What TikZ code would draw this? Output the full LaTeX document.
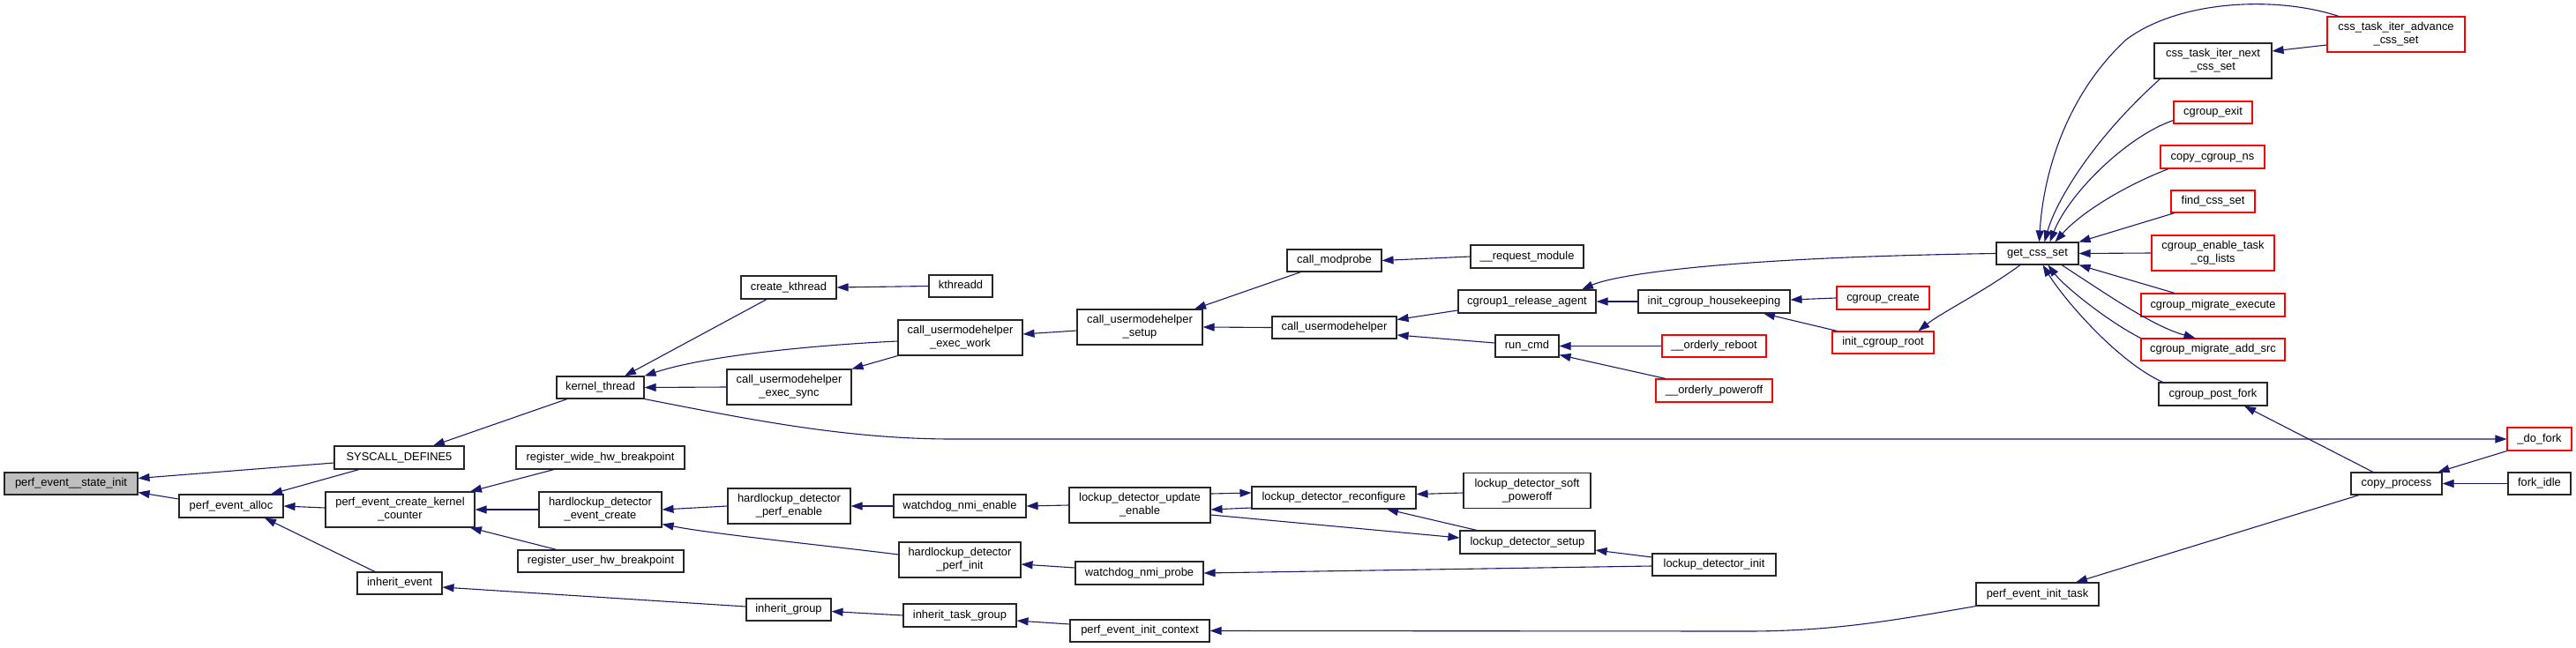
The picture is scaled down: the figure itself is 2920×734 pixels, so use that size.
\documentclass[tikz,border=0pt]{standalone}
\usepackage{fontspec}
\setmainfont{Liberation Sans}
\usetikzlibrary{arrows.meta,calc}
\definecolor{edgecol}{HTML}{191970}
\definecolor{boxgray}{HTML}{BFBFBF}
\newcommand{\mystrut}{\rule[-2.7pt]{0pt}{12pt}}
\tikzset{
  fn/.style={draw=black!85, line width=1.1pt, rectangle, inner sep=0pt, align=center,
    font=\fontsize{12.9pt}{14.7pt}\selectfont, fill=white},
  redfn/.style={fn, draw=red},
  edge/.style={draw=edgecol, line width=1.1pt, -{Triangle[length=13pt,width=9pt]}},
}
\begin{document}
\begin{tikzpicture}[x=1pt,y=-1pt]
\useasboundingbox (0,0) rectangle (2920,734);
% ---- nodes ----
\node[fn, fill=boxgray, minimum width=151pt, minimum height=25pt] (psi) at (80.5,548.5) {\mystrut perf\_event\_\_state\_init};
\node[fn, minimum width=118pt, minimum height=26pt] (pea) at (262,574) {\mystrut perf\_event\_alloc};
\node[fn, minimum width=147pt, minimum height=26pt] (sys) at (452.5,519) {\mystrut SYSCALL\_DEFINE5};
\node[fn, minimum width=169pt, minimum height=40pt] (pekc) at (453.5,578) {\mystrut perf\_event\_create\_kernel\\\mystrut \_counter};
\node[fn, minimum width=96pt, minimum height=25pt] (inhev) at (453,661.5) {\mystrut inherit\_event};
\node[fn, minimum width=99pt, minimum height=25pt] (kt) at (680.5,439.5) {\mystrut kernel\_thread};
\node[fn, minimum width=191pt, minimum height=26pt] (rwhb) at (680.5,519) {\mystrut register\_wide\_hw\_breakpoint};
\node[fn, minimum width=139pt, minimum height=40pt] (hdec) at (680.5,578) {\mystrut hardlockup\_detector\\\mystrut \_event\_create};
\node[fn, minimum width=188pt, minimum height=25pt] (ruhb) at (681,636.5) {\mystrut register\_user\_hw\_breakpoint};
\node[fn, minimum width=108pt, minimum height=26pt] (ck) at (894,326) {\mystrut create\_kthread};
\node[fn, minimum width=72pt, minimum height=25pt] (kthreadd) at (1089,324.5) {\mystrut kthreadd};
\node[fn, minimum width=141pt, minimum height=40pt] (cuew) at (1088.5,383) {\mystrut call\_usermodehelper\\\mystrut \_exec\_work};
\node[fn, minimum width=141pt, minimum height=40pt] (cues) at (894.5,439) {\mystrut call\_usermodehelper\\\mystrut \_exec\_sync};
\node[fn, minimum width=139pt, minimum height=40pt] (hdpe) at (894.5,574) {\mystrut hardlockup\_detector\\\mystrut \_perf\_enable};
\node[fn, minimum width=96pt, minimum height=25pt] (inhg) at (894,691.5) {\mystrut inherit\_group};
\node[fn, minimum width=150pt, minimum height=26pt] (wne) at (1088,574) {\mystrut watchdog\_nmi\_enable};
\node[fn, minimum width=138pt, minimum height=40pt] (hdpi) at (1088,635) {\mystrut hardlockup\_detector\\\mystrut \_perf\_init};
\node[fn, minimum width=128pt, minimum height=26pt] (itg) at (1088,698) {\mystrut inherit\_task\_group};
\node[fn, minimum width=142pt, minimum height=40pt] (cus) at (1292,371) {\mystrut call\_usermodehelper\\\mystrut \_setup};
\node[fn, minimum width=160pt, minimum height=40pt] (ldue) at (1292,573) {\mystrut lockup\_detector\_update\\\mystrut \_enable};
\node[fn, minimum width=145pt, minimum height=26pt] (wnp) at (1291.5,650) {\mystrut watchdog\_nmi\_probe};
\node[fn, minimum width=158pt, minimum height=25pt] (peic) at (1292,715.5) {\mystrut perf\_event\_init\_context};
\node[fn, minimum width=107pt, minimum height=25pt] (cm) at (1512.5,295.5) {\mystrut call\_modprobe};
\node[fn, minimum width=141pt, minimum height=25pt] (cu) at (1512.5,371.5) {\mystrut call\_usermodehelper};
\node[fn, minimum width=186pt, minimum height=25pt] (ldr) at (1512,564.5) {\mystrut lockup\_detector\_reconfigure};
\node[fn, minimum width=128pt, minimum height=26pt] (rm) at (1731,291) {\mystrut \_\_request\_module};
\node[fn, minimum width=156pt, minimum height=26pt] (cra) at (1731,342) {\mystrut cgroup1\_release\_agent};
\node[fn, minimum width=72pt, minimum height=25pt] (rc) at (1731,392.5) {\mystrut run\_cmd};
\node[fn, minimum width=144pt, minimum height=40pt] (ldsp) at (1731,556.5) {\mystrut lockup\_detector\_soft\\\mystrut \_poweroff};
\node[fn, minimum width=153pt, minimum height=26pt] (lds) at (1731.5,615) {\mystrut lockup\_detector\_setup};
\node[fn, minimum width=172pt, minimum height=26pt] (ich) at (1943,342) {\mystrut init\_cgroup\_housekeeping};
\node[redfn, minimum width=118pt, minimum height=25pt] (orb) at (1943,392.5) {\mystrut \_\_orderly\_reboot};
\node[redfn, minimum width=132pt, minimum height=26pt] (opo) at (1943,443) {\mystrut \_\_orderly\_poweroff};
\node[fn, minimum width=140pt, minimum height=25pt] (ldi) at (1943,640.5) {\mystrut lockup\_detector\_init};
\node[redfn, minimum width=105pt, minimum height=26pt] (ccr) at (2134.5,338) {\mystrut cgroup\_create};
\node[redfn, minimum width=115pt, minimum height=25pt] (icr) at (2134.5,388.5) {\mystrut init\_cgroup\_root};
\node[fn, minimum width=139pt, minimum height=26pt] (peit) at (2309.5,674) {\mystrut perf\_event\_init\_task};
\node[fn, minimum width=93pt, minimum height=25pt] (gcs) at (2309.5,287.5) {\mystrut get\_css\_set};
\node[fn, minimum width=133pt, minimum height=40pt] (ctin) at (2508.5,69) {\mystrut css\_task\_iter\_next\\\mystrut \_css\_set};
\node[redfn, minimum width=89pt, minimum height=25pt] (cex) at (2508.5,127.5) {\mystrut cgroup\_exit};
\node[redfn, minimum width=118pt, minimum height=26pt] (ccn) at (2508,178) {\mystrut copy\_cgroup\_ns};
\node[redfn, minimum width=95pt, minimum height=25pt] (fcs) at (2508.5,228.5) {\mystrut find\_css\_set};
\node[redfn, minimum width=139pt, minimum height=40pt] (cetcl) at (2508.5,287) {\mystrut cgroup\_enable\_task\\\mystrut \_cg\_lists};
\node[redfn, minimum width=163pt, minimum height=26pt] (cme) at (2508.5,346) {\mystrut cgroup\_migrate\_execute};
\node[redfn, minimum width=163pt, minimum height=25pt] (cmas) at (2508.5,396.5) {\mystrut cgroup\_migrate\_add\_src};
\node[fn, minimum width=123pt, minimum height=26pt] (cpf) at (2508.5,447) {\mystrut cgroup\_post\_fork};
\node[redfn, minimum width=156pt, minimum height=40pt] (ctia) at (2716,39) {\mystrut css\_task\_iter\_advance\\\mystrut \_css\_set};
\node[fn, minimum width=103pt, minimum height=25pt] (cp) at (2716.5,548.5) {\mystrut copy\_process};
\node[redfn, minimum width=73pt, minimum height=26pt] (df) at (2878.5,498) {\mystrut \_do\_fork};
\node[fn, minimum width=71pt, minimum height=25pt] (fi) at (2878.5,548.5) {\mystrut fork\_idle};
% ---- edges ----
\draw[edge] ([yshift=-6pt]sys.west) -- ([yshift=6pt]psi.east);
\draw[edge] ([yshift=8pt]pea.west) -- ([yshift=-10pt]psi.east);
\draw[edge] ([xshift=-45.5pt]sys.south) -- ([xshift=45pt]pea.north);
\draw[edge] ([yshift=2pt]pekc.west) -- (pea.east);
\draw[edge] ([xshift=-28pt]inhev.north) -- ([xshift=38pt]pea.south);
\draw[edge] ([xshift=-37.5pt]kt.south) -- ([xshift=38.5pt]sys.north);
\draw[edge] ([xshift=-52.5pt]rwhb.south) -- ([xshift=79.5pt]pekc.north);
\draw[edge] (hdec.west) -- (pekc.east);
\draw[edge] ([xshift=-50pt]ruhb.north) -- ([xshift=79.5pt]pekc.south);
\draw[edge] ([yshift=3.5pt]inhg.west) -- ([yshift=-4.5pt]inhev.east);
\draw[edge] ([xshift=-25pt]ck.south) -- ([xshift=27.5pt]kt.north);
\draw[edge] ([yshift=-4pt]cuew.west) .. controls (930,391) and (800,403) .. (kt.north east);
\draw[edge] (cues.west) -- (kt.east);
\draw[edge] (kt.south east) .. controls (850,476) and (960,498) .. (1080,498) -- (df.west);
\draw[edge] (kthreadd.west) -- (ck.east);
\draw[edge] (cuew.south west) -- (cues.north east);
\draw[edge] ([yshift=-4pt]cus.west) -- ([yshift=4pt]cuew.east);
\draw[edge] ([xshift=-38pt]cm.south) -- ([xshift=62pt]cus.north);
\draw[edge] (cu.west) -- (cus.east);
\draw[edge] (rm.west) -- (cm.east);
\draw[edge] ([yshift=-10pt]cra.west) -- ([yshift=9pt]cu.east);
\draw[edge] ([yshift=3.5pt]rc.west) -- ([yshift=-8.5pt]cu.east);
\draw[edge] (ich.west) -- (cra.east);
\draw[edge] (gcs.west) .. controls (1950,292) and (1830,312) .. ([xshift=62pt]cra.north);
\draw[edge] (ccr.west) -- ([yshift=2pt]ich.east);
\draw[edge] ([xshift=-52pt]icr.north) -- ([xshift=56pt]ich.south);
\draw[edge] ([xshift=-19.5pt]gcs.south) .. controls (2250,330) and (2200,355) .. ([xshift=40pt]icr.north);
\draw[edge] (orb.west) -- (rc.east);
\draw[edge] ([xshift=-55pt]opo.north) -- ([yshift=3pt]rc.south east);
\draw[edge] ([xshift=-60pt]ctin.south) .. controls (2370,160) and (2330,230) .. ([xshift=8pt]gcs.north);
\draw[edge] ([xshift=-65pt]ctia.north) .. controls (2580,-5) and (2470,0) .. (2410,45) .. controls (2340,110) and (2316,200) .. ([xshift=2pt]gcs.north);
\draw[edge] ([yshift=-12pt]ctia.west) -- ([yshift=11pt]ctin.east);
\draw[edge] ([yshift=-9pt]cex.west) .. controls (2410,155) and (2345,220) .. ([xshift=14pt]gcs.north);
\draw[edge] ([xshift=-50pt]ccn.south) .. controls (2410,210) and (2360,240) .. ([xshift=20pt]gcs.north);
\draw[edge] ([xshift=-43.5pt]fcs.south) -- (gcs.north east);
\draw[edge] (cetcl.west) -- (gcs.east);
\draw[edge] ([xshift=-43.5pt]cme.north) -- (gcs.south east);
\draw[edge] ([xshift=27.5pt]gcs.south) .. controls (2390,335) and (2440,370) .. ([xshift=-20pt]cmas.north);
\draw[edge] (cmas.north west) .. controls (2390,365) and (2340,325) .. ([xshift=12pt]gcs.south);
\draw[edge] ([xshift=-57pt]cpf.north) .. controls (2400,410) and (2340,340) .. ([xshift=6pt]gcs.south);
\draw[edge] ([xshift=-26.5pt]cp.north) -- ([xshift=35.5pt]cpf.south);
\draw[edge] (df.south west) -- ([xshift=-5pt]cp.north east);
\draw[edge] (fi.west) -- (cp.east);
\draw[edge] ([xshift=-42.5pt]cp.south) -- ([xshift=43.5pt]peit.north);
\draw[edge] (peit.south west) .. controls (2150,703) and (2080,716) .. (1980,716) -- (peic.east);
\draw[edge] ([yshift=7.5pt]peic.west) -- ([yshift=-6pt]itg.east);
\draw[edge] (itg.west) -- ([yshift=-2pt]inhg.east);
\draw[edge] (hdpe.west) -- (hdec.east);
\draw[edge] ([yshift=6pt]hdpi.west) .. controls (930,618) and (810,606) .. ([yshift=4pt]hdec.south east);
\draw[edge] (wne.west) -- (hdpe.east);
\draw[edge] ([yshift=6pt]wnp.west) -- ([yshift=-5pt]hdpi.east);
\draw[edge] (ldue.west) -- (wne.east);
\draw[edge] ([yshift=13pt]ldue.east) -- ([yshift=5.5pt]ldr.west);
\draw[edge] ([yshift=-11.5pt]ldr.west) -- ([yshift=-5pt]ldue.east);
\draw[edge] ([yshift=-11pt]ldue.east) -- ([yshift=5pt]lds.west);
\draw[edge] ([xshift=-57.5pt]lds.north) -- ([xshift=60pt]ldr.south);
\draw[edge] ([yshift=-2.5pt]ldsp.west) -- ([yshift=4pt]ldr.east);
\draw[edge] ([yshift=8.5pt]ldi.west) -- ([yshift=-9pt]lds.east);
\draw[edge] ([yshift=-1.5pt]ldi.west) -- (wnp.east);
\end{tikzpicture}
\end{document}
